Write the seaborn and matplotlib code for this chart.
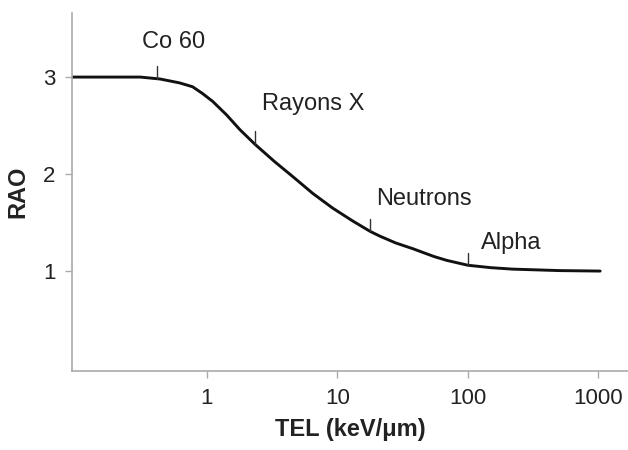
import matplotlib
matplotlib.use("Agg")
import matplotlib.pyplot as plt
import seaborn as sns
import pandas as pd

# Curve (TEL in keV/um, RAO)
tel = [0.093, 0.31, 0.44, 0.62, 0.78, 0.93, 1.11, 1.42, 1.79, 2.33, 3.3,
       4.6, 6.5, 9.2, 13, 17.8, 21.2, 28, 38, 55, 69, 100, 150, 220, 500, 1030]
rao = [3.00, 3.00, 2.98, 2.94, 2.90, 2.83, 2.75, 2.61, 2.46, 2.31, 2.13,
       1.97, 1.80, 1.65, 1.52, 1.41, 1.36, 1.29, 1.23, 1.15, 1.11, 1.06,
       1.035, 1.02, 1.005, 1.00]

# Annotations: label, marker x, curve y at marker, label x, label y
ann_labels = ["Co 60", "Rayons X", "Neutrons", "Alpha"]
ann_x = [0.42, 2.33, 17.8, 100]
ann_y = [2.98, 2.31, 1.41, 1.06]
lab_x = [0.318, 2.64, 20, 126]
lab_y = [3.36, 2.72, 1.74, 1.29]

x_ticks = [1, 10, 100, 1000]
x_ticklabels = ["1", "10", "100", "1000"]
y_ticks = [1, 2, 3]

sns.set_theme(style="white")
plt.rcParams['font.family'] = ['Liberation Sans', 'DejaVu Sans']

fig = plt.figure(figsize=(6.28, 4.5), dpi=100)
ax = fig.add_axes([0.1146, 0.1756, 0.8854, 0.7954])

df = pd.DataFrame({"TEL": tel, "RAO": rao})
sns.lineplot(data=df, x="TEL", y="RAO", ax=ax, color="#111111", linewidth=2.1)

ax.set_xscale("log")
ax.set_xlim(0.093, 1683)
ax.set_ylim(-0.03, 3.66)

for lab, mx, my, lx, ly in zip(ann_labels, ann_x, ann_y, lab_x, lab_y):
    ax.plot([mx, mx], [my, my + 0.13], color="#333333", linewidth=1.0)
    ax.text(lx, ly, lab, fontsize=17, color="#222222", ha="left", va="center")

ax.set_xticks(x_ticks)
ax.set_xticklabels(x_ticklabels)
ax.xaxis.set_minor_locator(matplotlib.ticker.NullLocator())
ax.set_yticks(y_ticks)
ax.tick_params(axis="both", which="major", direction="out", length=5, width=1,
               color="#aaaaaa", labelsize=16, labelcolor="#222222", pad=7,
               bottom=True, left=True)

for s in ["top", "right"]:
    ax.spines[s].set_visible(False)
for s in ["left", "bottom"]:
    ax.spines[s].set_color("#aaaaaa")
    ax.spines[s].set_linewidth(1.2)

ax.set_xlabel("TEL (keV/\u03bcm)", fontsize=17, fontweight="bold", color="#222222", labelpad=7)
ax.set_ylabel("RAO", fontsize=17, fontweight="bold", color="#222222", labelpad=10)

fig.savefig("out.png", dpi=100)
